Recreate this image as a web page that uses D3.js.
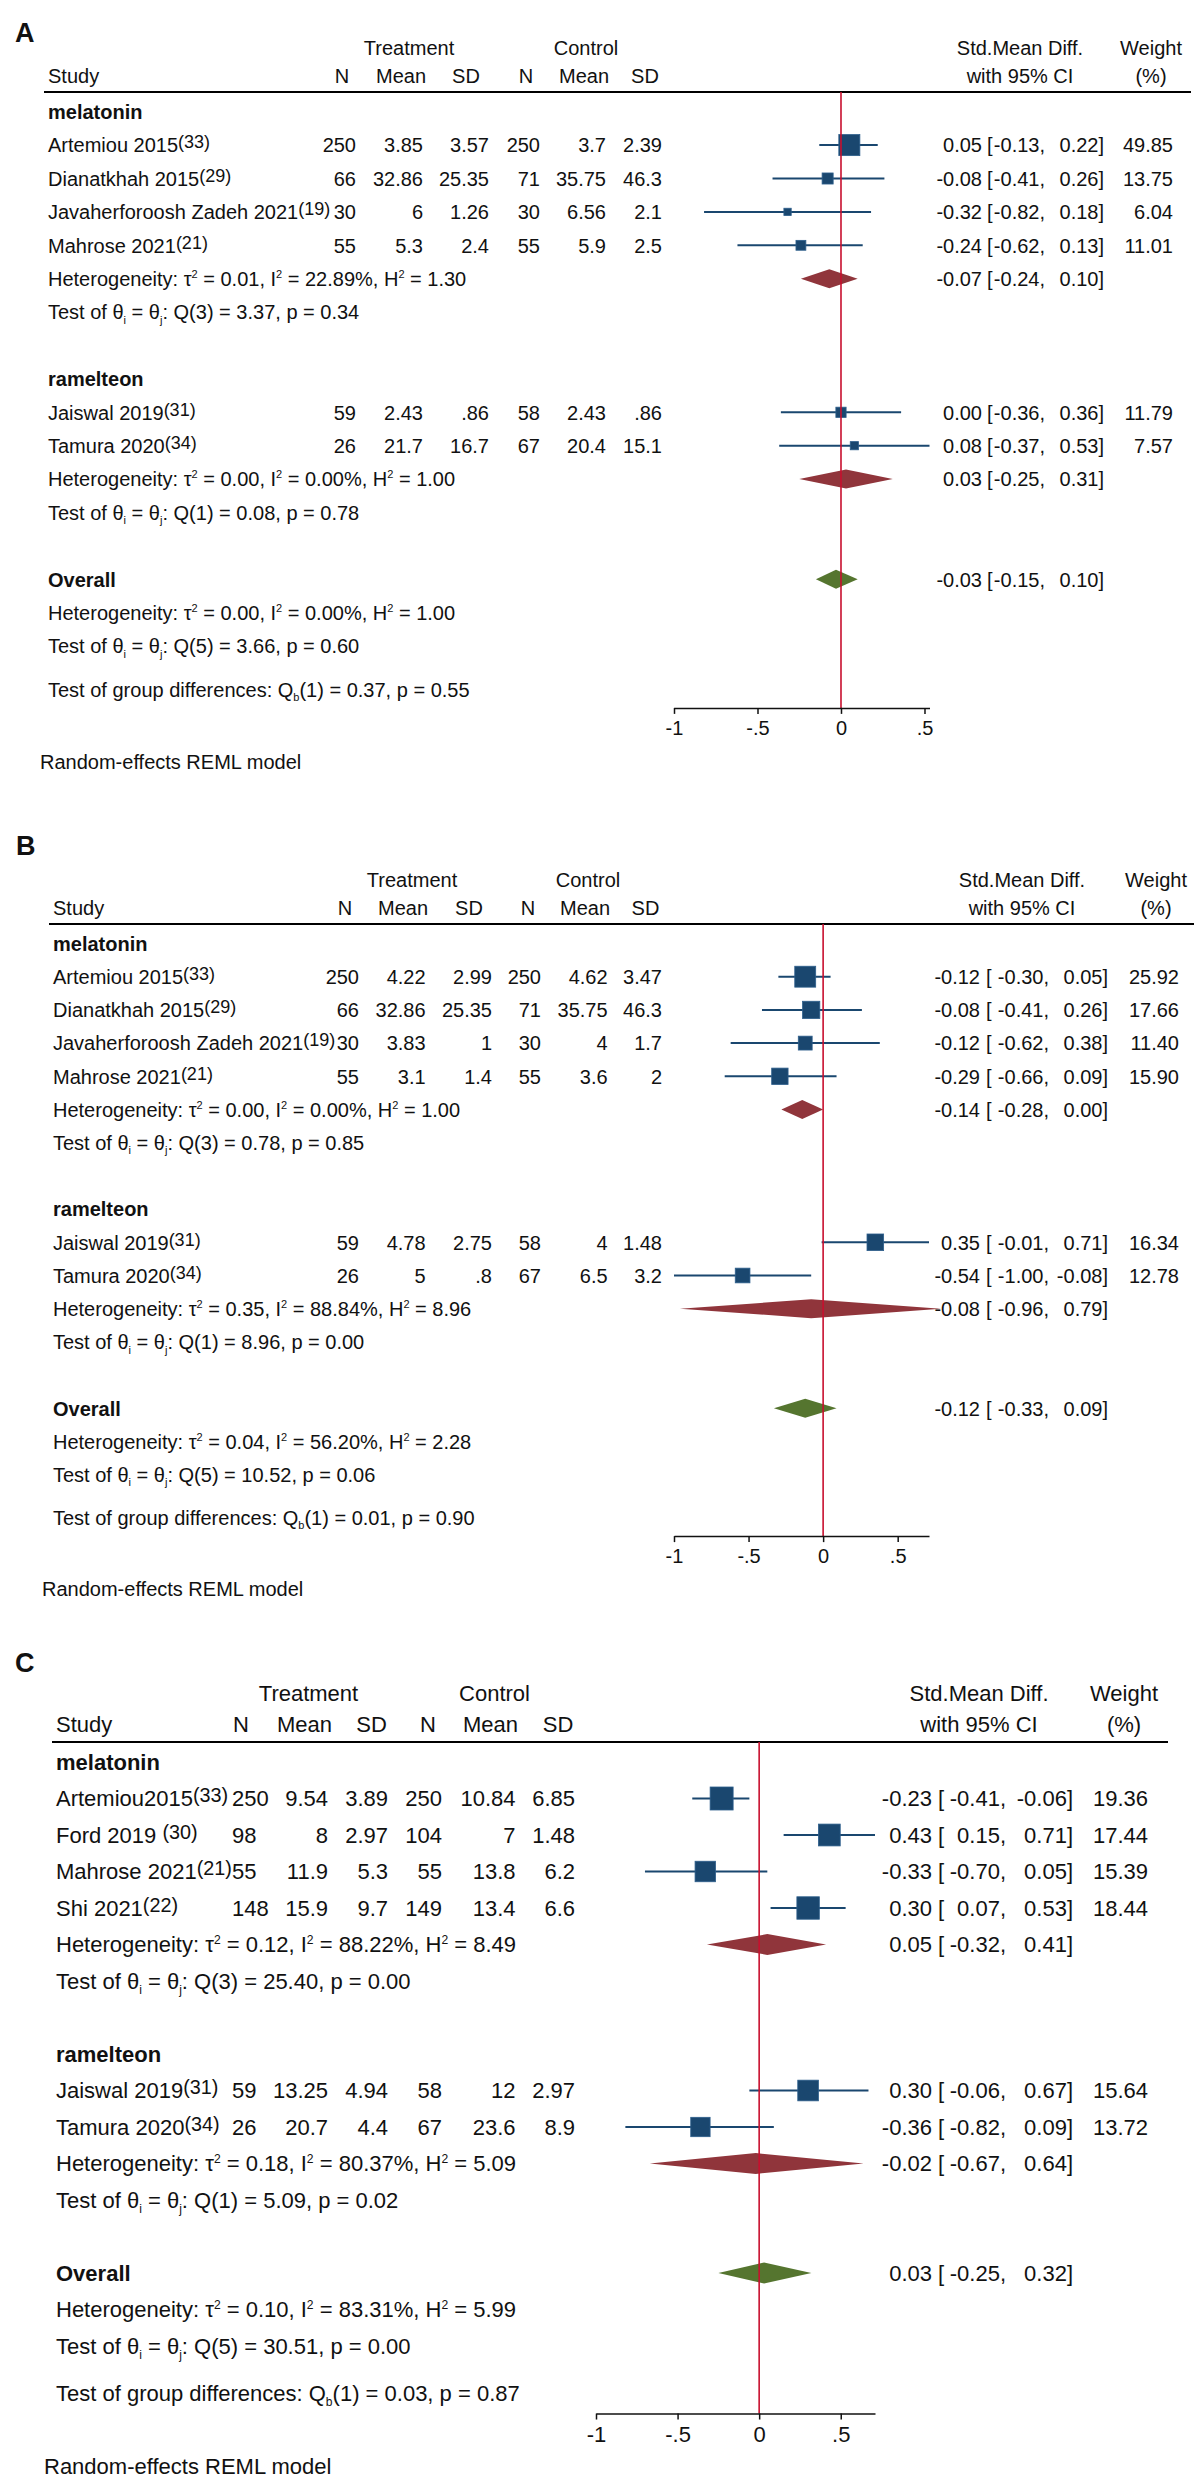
<!DOCTYPE html>
<html lang="en">
<head>
<meta charset="UTF-8">
<title>Forest plots</title>
<script src="https://cdn.jsdelivr.net/npm/d3@7"></script>
<style>
  body { margin: 0; background: #fff; }
  svg text { font-family: "Liberation Sans", Arial, sans-serif; fill: #111; white-space: pre; }
</style>
</head>
<body>
<svg id="chart" width="1198" height="2480"></svg>
<script>
// ---------- shared ----------
const colNames = ["N", "Mean", "SD", "N", "Mean", "SD"];
const groupNames = ["melatonin", "ramelteon"];

// ---------- panel A ----------
const aStudies = ["Artemiou 2015", "Dianatkhah 2015", "Javaherforoosh Zadeh 2021", "Mahrose 2021", "Jaiswal 2019", "Tamura 2020"];
const aRefs = ["33", "29", "19", "21", "31", "34"];
const aGroup = [0, 0, 0, 0, 1, 1];
const aTrtN = [250, 66, 30, 55, 59, 26];
const aTrtMean = [3.85, 32.86, 6, 5.3, 2.43, 21.7];
const aTrtSD = [3.57, 25.35, 1.26, 2.4, 0.86, 16.7];
const aCtlN = [250, 71, 30, 55, 58, 67];
const aCtlMean = [3.7, 35.75, 6.56, 5.9, 2.43, 20.4];
const aCtlSD = [2.39, 46.3, 2.1, 2.5, 0.86, 15.1];
const aEst = [0.05, -0.08, -0.32, -0.24, 0.00, 0.08];
const aLo = [-0.13, -0.41, -0.82, -0.62, -0.36, -0.37];
const aHi = [0.22, 0.26, 0.18, 0.13, 0.36, 0.53];
const aWeight = [49.85, 13.75, 6.04, 11.01, 11.79, 7.57];
const aSubEst = [-0.07, 0.03], aSubLo = [-0.24, -0.25], aSubHi = [0.10, 0.31];
const aSubHet = [["0.01", "22.89", "1.30"], ["0.00", "0.00", "1.00"]];
const aSubQ = [["3", "3.37", "0.34"], ["1", "0.08", "0.78"]];
const aAll = [-0.03, -0.15, 0.10];
const aAllHet = ["0.00", "0.00", "1.00"];
const aAllQ = ["5", "3.66", "0.60"];
const aQb = ["1", "0.37", "0.55"];

// ---------- panel B ----------
const bStudies = ["Artemiou 2015", "Dianatkhah 2015", "Javaherforoosh Zadeh 2021", "Mahrose 2021", "Jaiswal 2019", "Tamura 2020"];
const bRefs = ["33", "29", "19", "21", "31", "34"];
const bGroup = [0, 0, 0, 0, 1, 1];
const bTrtN = [250, 66, 30, 55, 59, 26];
const bTrtMean = [4.22, 32.86, 3.83, 3.1, 4.78, 5];
const bTrtSD = [2.99, 25.35, 1, 1.4, 2.75, 0.8];
const bCtlN = [250, 71, 30, 55, 58, 67];
const bCtlMean = [4.62, 35.75, 4, 3.6, 4, 6.5];
const bCtlSD = [3.47, 46.3, 1.7, 2, 1.48, 3.2];
const bEst = [-0.12, -0.08, -0.12, -0.29, 0.35, -0.54];
const bLo = [-0.30, -0.41, -0.62, -0.66, -0.01, -1.00];
const bHi = [0.05, 0.26, 0.38, 0.09, 0.71, -0.08];
const bWeight = [25.92, 17.66, 11.40, 15.90, 16.34, 12.78];
const bSubEst = [-0.14, -0.08], bSubLo = [-0.28, -0.96], bSubHi = [0.00, 0.79];
const bSubHet = [["0.00", "0.00", "1.00"], ["0.35", "88.84", "8.96"]];
const bSubQ = [["3", "0.78", "0.85"], ["1", "8.96", "0.00"]];
const bAll = [-0.12, -0.33, 0.09];
const bAllHet = ["0.04", "56.20", "2.28"];
const bAllQ = ["5", "10.52", "0.06"];
const bQb = ["1", "0.01", "0.90"];

// ---------- panel C ----------
const cStudies = ["Artemiou2015", "Ford 2019\u00a0", "Mahrose 2021", "Shi 2021", "Jaiswal 2019", "Tamura 2020"];
const cRefs = ["33", "30", "21", "22", "31", "34"];
const cGroup = [0, 0, 0, 0, 1, 1];
const cTrtN = [250, 98, 55, 148, 59, 26];
const cTrtMean = [9.54, 8, 11.9, 15.9, 13.25, 20.7];
const cTrtSD = [3.89, 2.97, 5.3, 9.7, 4.94, 4.4];
const cCtlN = [250, 104, 55, 149, 58, 67];
const cCtlMean = [10.84, 7, 13.8, 13.4, 12, 23.6];
const cCtlSD = [6.85, 1.48, 6.2, 6.6, 2.97, 8.9];
const cEst = [-0.23, 0.43, -0.33, 0.30, 0.30, -0.36];
const cLo = [-0.41, 0.15, -0.70, 0.07, -0.06, -0.82];
const cHi = [-0.06, 0.71, 0.05, 0.53, 0.67, 0.09];
const cWeight = [19.36, 17.44, 15.39, 18.44, 15.64, 13.72];
const cSubEst = [0.05, -0.02], cSubLo = [-0.32, -0.67], cSubHi = [0.41, 0.64];
const cSubHet = [["0.12", "88.22", "8.49"], ["0.18", "80.37", "5.09"]];
const cSubQ = [["3", "25.40", "0.00"], ["1", "5.09", "0.02"]];
const cAll = [0.03, -0.25, 0.32];
const cAllHet = ["0.10", "83.31", "5.99"];
const cAllQ = ["5", "30.51", "0.00"];
const cQb = ["1", "0.03", "0.87"];

// ---------- layout (pixel positions per panel) ----------
const layoutA = {
  letterX: 15, letterY: 42, head1: 55, head2: 82.5, ruleY: 92, ruleX: [44, 1191],
  row0: 111.7, step: 33.4, font: 20, textX: 48, modelX: 40,
  plotX: [674, 929.5], nLeft: null,
  colRight: [356, 423, 489, 540, 606, 662], colHead: [342, 401, 466, 526, 584, 645],
  trtHead: 409, ctlHead: 586, smdHead: 1020, wHead: 1151,
  estR: 982, brL: 987, loR: 1045, hiR: 1104, wR: 1173
};
const layoutB = {
  letterX: 16, letterY: 855, head1: 887, head2: 914.5, ruleY: 924, ruleX: [49, 1194],
  row0: 943.5, step: 33.2, font: 20, textX: 53, modelX: 42,
  plotX: [674, 929], nLeft: null,
  colRight: [359, 425.6, 492, 541, 607.6, 662], colHead: [345, 403, 469, 528, 585, 645.5],
  trtHead: 412, ctlHead: 588, smdHead: 1022, wHead: 1156,
  estR: 980, brL: 986, loR: 1049, hiR: 1108, wR: 1179
};
const layoutC = {
  letterX: 15, letterY: 1672, head1: 1701, head2: 1732, ruleY: 1742, ruleX: [52, 1168],
  row0: 1762, step: 36.5, font: 22, textX: 56, modelX: 44,
  plotX: [596, 875], nLeft: 232,
  colRight: [null, 328, 388, 442, 515.5, 575], colHead: [241, 304.5, 371.5, 428, 490.5, 558],
  trtHead: 308.5, ctlHead: 494.5, smdHead: 979, wHead: 1124,
  estR: 932, brL: 938, loR: 1006, hiR: 1073, wR: 1148
};

const navy = "#1a476f", maroon = "#90353b", forest = "#55752f", refRed = "#c8102e";
const loc = d3.formatLocale({ decimal: ".", thousands: ",", grouping: [3], currency: ["", ""], minus: "-" });
const f2 = loc.format(".2f");
const stataNum = v => String(v).replace(/^0\./, ".").replace(/^-0\./, "-.");

const svg = d3.select("#chart");
const svgH = +svg.attr("height");

function drawPanel(label, L, D) {
  const g = svg.append("g");
  const fs = L.font;
  const y = d3.scaleLinear().domain([0, 1]).range([L.row0, L.row0 + L.step]);
  const base = r => y(r) + 0.36 * fs;
  const x = d3.scaleLinear()
    .domain([Math.floor(d3.min(D.lo) * 2) / 2, d3.max(D.hi)])
    .range(L.plotX);

  const txt = (xx, yy, s, anchor, extra) => {
    const t = g.append("text").attr("x", xx).attr("y", yy)
      .attr("font-size", fs).attr("text-anchor", anchor || "start").text(s);
    if (extra) t.attr("font-weight", extra);
    return t;
  };
  // text with sup (1) / sub (-1) parts
  const rich = (xx, yy, parts) => {
    const t = g.append("text").attr("x", xx).attr("y", yy).attr("font-size", fs);
    let cur = 0;
    parts.forEach(([s, k]) => {
      const off = k === 1 ? -0.4 * fs : k === -1 ? 0.22 * fs : 0;
      const ts = t.append("tspan").attr("dy", off - cur).text(s);
      if (k) ts.attr("font-size", 0.55 * fs);
      cur = off;
    });
  };
  const hetText = (r, h) => rich(L.textX, base(r), [
    ["Heterogeneity: \u03c4", 0], ["2", 1], [" = " + h[0] + ", I", 0], ["2", 1],
    [" = " + h[1] + "%, H", 0], ["2", 1], [" = " + h[2], 0]
  ]);
  const testText = (r, q) => rich(L.textX, base(r), [
    ["Test of \u03b8", 0], ["i", -1], [" = \u03b8", 0], ["j", -1],
    [": Q(" + q[0] + ") = " + q[1] + ", p = " + q[2], 0]
  ]);
  const ciText = (r, est, lo, hi, w) => {
    const yb = base(r);
    txt(L.estR, yb, f2(est), "end");
    txt(L.brL, yb, "[", "start");
    txt(L.loR, yb, f2(lo) + ",", "end");
    txt(L.hiR, yb, f2(hi) + "]", "end");
    if (w !== undefined) txt(L.wR, yb, f2(w), "end");
  };
  const diamond = (r, est, lo, hi, color) => {
    const cy = y(r), h = 0.285 * L.step;
    g.append("path")
      .attr("d", `M${x(lo)},${cy}L${x(est)},${cy - h}L${x(hi)},${cy}L${x(est)},${cy + h}Z`)
      .attr("fill", color);
  };

  // panel letter and headings
  g.append("text").attr("x", L.letterX).attr("y", L.letterY)
    .attr("font-size", 27).attr("font-weight", "bold").text(label);
  txt(L.trtHead, L.head1, "Treatment", "middle");
  txt(L.ctlHead, L.head1, "Control", "middle");
  txt(L.smdHead, L.head1, "Std.Mean Diff.", "middle");
  txt(L.wHead, L.head1, "Weight", "middle");
  txt(L.textX, L.head2, "Study");
  colNames.forEach((c, k) => txt(L.colHead[k], L.head2, c, "middle"));
  txt(L.smdHead, L.head2, "with 95% CI", "middle");
  txt(L.wHead, L.head2, "(%)", "middle");
  g.append("line").attr("x1", L.ruleX[0]).attr("x2", L.ruleX[1])
    .attr("y1", L.ruleY).attr("y2", L.ruleY)
    .attr("stroke", "#000").attr("stroke-width", 2);

  const maxW = d3.max(D.weight);
  const cols = [D.trtN, D.trtMean, D.trtSD, D.ctlN, D.ctlMean, D.ctlSD];
  let r = 0;
  groupNames.forEach((gn, gi) => {
    txt(L.textX, base(r), gn, "start", "bold");
    r++;
    D.studies.forEach((name, i) => {
      if (D.group[i] !== gi) return;
      const yb = base(r), cy = y(r);
      const t = txt(L.textX, yb, name);
      t.append("tspan").attr("dy", -0.2 * fs).attr("font-size", 0.9 * fs).text("(" + D.refs[i] + ")");
      cols.forEach((col, k) => {
        if (k === 0 && L.nLeft !== null) txt(L.nLeft, yb, stataNum(col[i]), "start");
        else txt(L.colRight[k], yb, stataNum(col[i]), "end");
      });
      g.append("line").attr("x1", x(D.lo[i])).attr("x2", x(D.hi[i]))
        .attr("y1", cy).attr("y2", cy).attr("stroke", navy).attr("stroke-width", 2);
      const s = 0.63 * L.step * Math.sqrt(D.weight[i] / maxW);
      g.append("rect").attr("x", x(D.est[i]) - s / 2).attr("y", cy - s / 2)
        .attr("width", s).attr("height", s)
        .attr("fill", navy).attr("stroke", "#2e5f8c").attr("stroke-width", 0.8);
      ciText(r, D.est[i], D.lo[i], D.hi[i], D.weight[i]);
      r++;
    });
    hetText(r, D.subHet[gi]);
    diamond(r, D.subEst[gi], D.subLo[gi], D.subHi[gi], maroon);
    ciText(r, D.subEst[gi], D.subLo[gi], D.subHi[gi]);
    r++;
    testText(r, D.subQ[gi]);
    r += 2;
  });
  txt(L.textX, base(r), "Overall", "start", "bold");
  diamond(r, D.all[0], D.all[1], D.all[2], forest);
  ciText(r, D.all[0], D.all[1], D.all[2]);
  hetText(r + 1, D.allHet);
  testText(r + 2, D.allQ);
  rich(L.textX, base(r + 3.3), [
    ["Test of group differences: Q", 0], ["b", -1],
    ["(" + D.qb[0] + ") = " + D.qb[1] + ", p = " + D.qb[2], 0]
  ]);

  const axisY = y(r + 3.85);
  // no-effect line
  g.append("line").attr("x1", x(0)).attr("x2", x(0))
    .attr("y1", L.ruleY).attr("y2", axisY)
    .attr("stroke", refRed).attr("stroke-width", 1.6);

  const ticks = d3.range(x.domain()[0], x.domain()[1] + 1e-9, 0.5);
  const ax = g.append("g").attr("transform", `translate(0,${axisY})`)
    .call(d3.axisBottom(x).tickValues(ticks).tickSize(6).tickSizeOuter(0).tickPadding(7)
      .tickFormat(d => stataNum(loc.format("")(d))));
  ax.attr("font-size", fs).attr("font-family", null);
  ax.selectAll("path, line").attr("stroke", "#111").attr("stroke-width", 1.5);
  ax.selectAll("text").attr("fill", "#111");

  // keep the model note inside the picture
  txt(L.modelX, Math.min(base(r + 5.45), svgH - 6), "Random-effects REML model");
}

drawPanel("A", layoutA, {
  studies: aStudies, refs: aRefs, group: aGroup,
  trtN: aTrtN, trtMean: aTrtMean, trtSD: aTrtSD, ctlN: aCtlN, ctlMean: aCtlMean, ctlSD: aCtlSD,
  est: aEst, lo: aLo, hi: aHi, weight: aWeight,
  subEst: aSubEst, subLo: aSubLo, subHi: aSubHi, subHet: aSubHet, subQ: aSubQ,
  all: aAll, allHet: aAllHet, allQ: aAllQ, qb: aQb
});
drawPanel("B", layoutB, {
  studies: bStudies, refs: bRefs, group: bGroup,
  trtN: bTrtN, trtMean: bTrtMean, trtSD: bTrtSD, ctlN: bCtlN, ctlMean: bCtlMean, ctlSD: bCtlSD,
  est: bEst, lo: bLo, hi: bHi, weight: bWeight,
  subEst: bSubEst, subLo: bSubLo, subHi: bSubHi, subHet: bSubHet, subQ: bSubQ,
  all: bAll, allHet: bAllHet, allQ: bAllQ, qb: bQb
});
drawPanel("C", layoutC, {
  studies: cStudies, refs: cRefs, group: cGroup,
  trtN: cTrtN, trtMean: cTrtMean, trtSD: cTrtSD, ctlN: cCtlN, ctlMean: cCtlMean, ctlSD: cCtlSD,
  est: cEst, lo: cLo, hi: cHi, weight: cWeight,
  subEst: cSubEst, subLo: cSubLo, subHi: cSubHi, subHet: cSubHet, subQ: cSubQ,
  all: cAll, allHet: cAllHet, allQ: cAllQ, qb: cQb
});
</script>
</body>
</html>
